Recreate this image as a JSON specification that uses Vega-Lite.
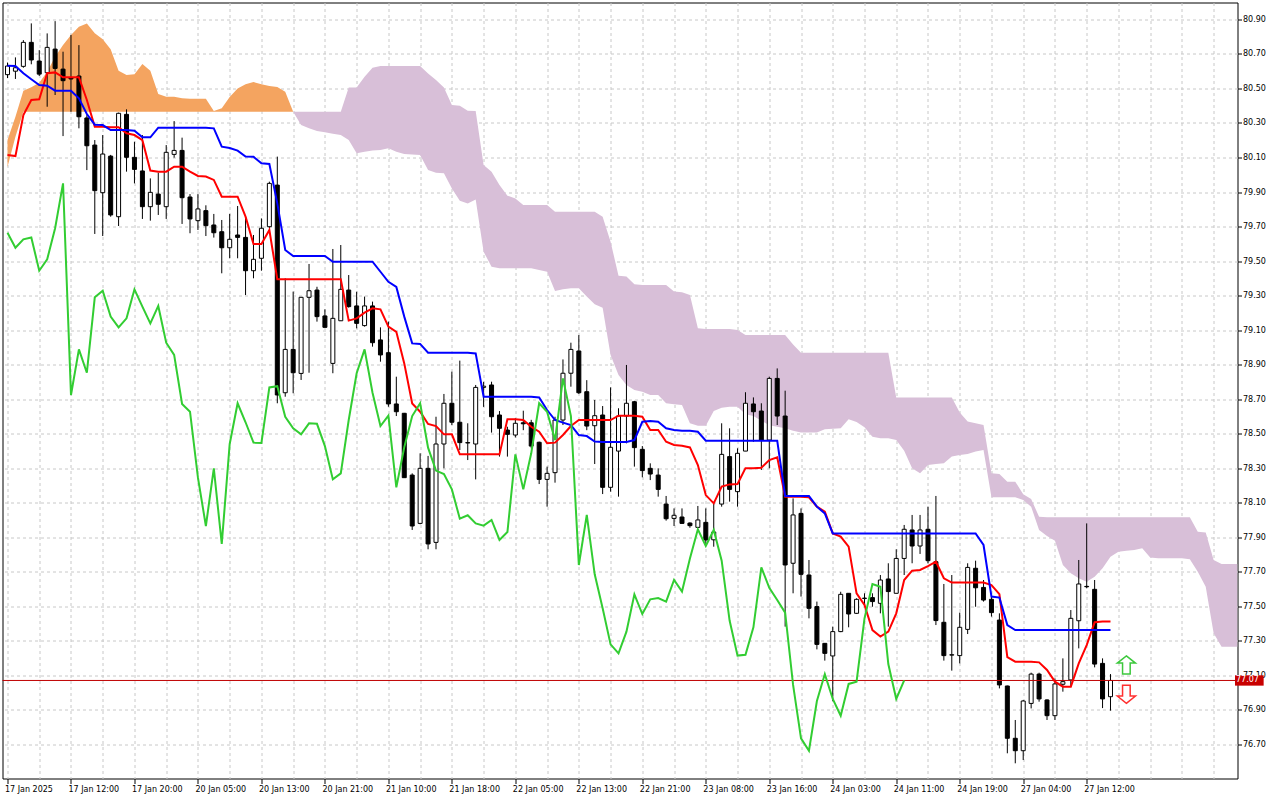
{
  "$schema": "https://vega.github.io/schema/vega-lite/v6.json",
  "width": 1235,
  "height": 776,
  "autosize": {"type": "none"},
  "padding": {"left": 2.5, "top": 2.5, "right": 42.5, "bottom": 21.5},
  "background": "white",
  "config": {
    "view": {"stroke": "black", "strokeWidth": 1},
    "font": "DejaVu Sans",
    "axis": {"labelFont": "DejaVu Sans", "labelFontSize": 8, "labelColor": "black", "title": null, "domain": false, "zindex": 0}
  },
  "datasets": {
    "bars": [
      {"i":0,"o":80.58,"h":80.65,"l":80.56,"c":80.63,"tk":80.114,"kj":80.632,"ch":79.664,"sa":80.201,"sb":80.045},
      {"i":1,"o":80.60,"h":80.68,"l":80.555,"c":80.62,"tk":80.108,"kj":80.63,"ch":79.577,"sa":80.336,"sb":80.22},
      {"i":2,"o":80.628,"h":80.78,"l":80.62,"c":80.767,"tk":80.346,"kj":80.588,"ch":79.626,"sa":80.487,"sb":80.365},
      {"i":3,"o":80.767,"h":80.877,"l":80.64,"c":80.665,"tk":80.433,"kj":80.553,"ch":79.637,"sa":80.507,"sb":80.365},
      {"i":4,"o":80.659,"h":80.722,"l":80.572,"c":80.583,"tk":80.437,"kj":80.52,"ch":79.444,"sa":80.533,"sb":80.365},
      {"i":5,"o":80.591,"h":80.819,"l":80.394,"c":80.738,"tk":80.588,"kj":80.516,"ch":79.51,"sa":80.597,"sb":80.365},
      {"i":6,"o":80.728,"h":80.89,"l":80.462,"c":80.616,"tk":80.593,"kj":80.487,"ch":79.69,"sa":80.684,"sb":80.365},
      {"i":7,"o":80.612,"h":80.713,"l":80.224,"c":80.545,"tk":80.565,"kj":80.487,"ch":79.95,"sa":80.752,"sb":80.365},
      {"i":8,"o":80.56,"h":80.81,"l":80.365,"c":80.555,"tk":80.565,"kj":80.487,"ch":78.724,"sa":80.81,"sb":80.365},
      {"i":9,"o":80.572,"h":80.751,"l":80.269,"c":80.336,"tk":80.565,"kj":80.443,"ch":78.988,"sa":80.858,"sb":80.365},
      {"i":10,"o":80.329,"h":80.345,"l":80.027,"c":80.168,"tk":80.433,"kj":80.352,"ch":78.853,"sa":80.877,"sb":80.365},
      {"i":11,"o":80.172,"h":80.201,"l":79.657,"c":79.908,"tk":80.278,"kj":80.29,"ch":79.29,"sa":80.82,"sb":80.365},
      {"i":12,"o":79.896,"h":80.23,"l":79.645,"c":80.12,"tk":80.278,"kj":80.288,"ch":79.328,"sa":80.785,"sb":80.365},
      {"i":13,"o":80.108,"h":80.115,"l":79.757,"c":79.767,"tk":80.275,"kj":80.259,"ch":79.178,"sa":80.727,"sb":80.365},
      {"i":14,"o":79.757,"h":80.36,"l":79.703,"c":80.356,"tk":80.275,"kj":80.259,"ch":79.116,"sa":80.603,"sb":80.365},
      {"i":15,"o":80.35,"h":80.379,"l":80.018,"c":80.101,"tk":80.24,"kj":80.259,"ch":79.168,"sa":80.578,"sb":80.365},
      {"i":16,"o":80.101,"h":80.191,"l":79.95,"c":80.031,"tk":80.23,"kj":80.255,"ch":79.336,"sa":80.583,"sb":80.365},
      {"i":17,"o":80.022,"h":80.23,"l":79.744,"c":79.815,"tk":80.2,"kj":80.217,"ch":79.236,"sa":80.642,"sb":80.365},
      {"i":18,"o":79.815,"h":79.979,"l":79.734,"c":79.898,"tk":80.024,"kj":80.217,"ch":79.139,"sa":80.603,"sb":80.365},
      {"i":19,"o":79.888,"h":80.012,"l":79.767,"c":79.829,"tk":80.018,"kj":80.273,"ch":79.24,"sa":80.468,"sb":80.365},
      {"i":20,"o":79.815,"h":80.172,"l":79.744,"c":80.13,"tk":80.018,"kj":80.273,"ch":79.027,"sa":80.452,"sb":80.365},
      {"i":21,"o":80.118,"h":80.311,"l":80.099,"c":80.141,"tk":80.047,"kj":80.273,"ch":78.956,"sa":80.452,"sb":80.365},
      {"i":22,"o":80.141,"h":80.215,"l":79.715,"c":79.867,"tk":80.047,"kj":80.273,"ch":78.672,"sa":80.443,"sb":80.365},
      {"i":23,"o":79.871,"h":79.888,"l":79.661,"c":79.744,"tk":80.018,"kj":80.273,"ch":78.627,"sa":80.44,"sb":80.365},
      {"i":24,"o":79.734,"h":79.888,"l":79.68,"c":79.802,"tk":79.993,"kj":80.273,"ch":78.245,"sa":80.44,"sb":80.365},
      {"i":25,"o":79.792,"h":79.823,"l":79.645,"c":79.705,"tk":79.99,"kj":80.273,"ch":77.965,"sa":80.44,"sb":80.365},
      {"i":26,"o":79.709,"h":79.773,"l":79.636,"c":79.664,"tk":79.97,"kj":80.269,"ch":78.299,"sa":80.37,"sb":80.365},
      {"i":27,"o":79.67,"h":79.738,"l":79.429,"c":79.577,"tk":79.873,"kj":80.163,"ch":77.861,"sa":80.385,"sb":80.365},
      {"i":28,"o":79.577,"h":79.773,"l":79.516,"c":79.626,"tk":79.873,"kj":80.155,"ch":78.44,"sa":80.45,"sb":80.365},
      {"i":29,"o":79.651,"h":79.819,"l":79.516,"c":79.637,"tk":79.873,"kj":80.14,"ch":78.676,"sa":80.50,"sb":80.365},
      {"i":30,"o":79.637,"h":79.757,"l":79.303,"c":79.444,"tk":79.757,"kj":80.105,"ch":78.566,"sa":80.525,"sb":80.365},
      {"i":31,"o":79.444,"h":79.651,"l":79.40,"c":79.51,"tk":79.599,"kj":80.104,"ch":78.448,"sa":80.537,"sb":80.365},
      {"i":32,"o":79.516,"h":79.747,"l":79.444,"c":79.69,"tk":79.599,"kj":80.066,"ch":78.446,"sa":80.525,"sb":80.365},
      {"i":33,"o":79.699,"h":79.96,"l":79.69,"c":79.95,"tk":79.68,"kj":80.062,"ch":78.768,"sa":80.514,"sb":80.365},
      {"i":34,"o":79.94,"h":80.105,"l":78.676,"c":78.724,"tk":79.394,"kj":79.834,"ch":78.775,"sa":80.508,"sb":80.365},
      {"i":35,"o":78.737,"h":79.40,"l":78.714,"c":78.988,"tk":79.394,"kj":79.564,"ch":78.598,"sa":80.481,"sb":80.365},
      {"i":36,"o":78.988,"h":79.323,"l":78.734,"c":78.853,"tk":79.394,"kj":79.529,"ch":78.531,"sa":80.365,"sb":80.365},
      {"i":37,"o":78.849,"h":79.29,"l":78.811,"c":79.29,"tk":79.394,"kj":79.529,"ch":78.496,"sa":80.288,"sb":80.365},
      {"i":38,"o":79.29,"h":79.483,"l":78.853,"c":79.328,"tk":79.394,"kj":79.529,"ch":78.56,"sa":80.269,"sb":80.365},
      {"i":39,"o":79.332,"h":79.351,"l":79.149,"c":79.178,"tk":79.394,"kj":79.529,"ch":78.557,"sa":80.253,"sb":80.365},
      {"i":40,"o":79.182,"h":79.22,"l":79.116,"c":79.116,"tk":79.394,"kj":79.529,"ch":78.428,"sa":80.246,"sb":80.365},
      {"i":41,"o":78.907,"h":79.57,"l":78.85,"c":79.168,"tk":79.394,"kj":79.496,"ch":78.235,"sa":80.238,"sb":80.365},
      {"i":42,"o":79.154,"h":79.593,"l":79.154,"c":79.336,"tk":79.394,"kj":79.496,"ch":78.27,"sa":80.23,"sb":80.365},
      {"i":43,"o":79.332,"h":79.419,"l":79.23,"c":79.236,"tk":79.155,"kj":79.496,"ch":78.579,"sa":80.201,"sb":80.506},
      {"i":44,"o":79.24,"h":79.322,"l":79.11,"c":79.139,"tk":79.168,"kj":79.496,"ch":78.85,"sa":80.124,"sb":80.506},
      {"i":45,"o":79.126,"h":79.294,"l":79.12,"c":79.24,"tk":79.201,"kj":79.496,"ch":78.988,"sa":80.134,"sb":80.568},
      {"i":46,"o":79.24,"h":79.265,"l":79.004,"c":79.027,"tk":79.226,"kj":79.496,"ch":78.737,"sa":80.14,"sb":80.62},
      {"i":47,"o":79.043,"h":79.116,"l":78.917,"c":78.956,"tk":79.22,"kj":79.438,"ch":78.544,"sa":80.143,"sb":80.63},
      {"i":48,"o":78.969,"h":79.149,"l":78.656,"c":78.672,"tk":79.12,"kj":79.38,"ch":78.604,"sa":80.153,"sb":80.63},
      {"i":49,"o":78.672,"h":78.83,"l":78.602,"c":78.627,"tk":79.09,"kj":79.35,"ch":78.189,"sa":80.134,"sb":80.63},
      {"i":50,"o":78.618,"h":78.62,"l":78.245,"c":78.245,"tk":78.907,"kj":79.178,"ch":78.421,"sa":80.12,"sb":80.63},
      {"i":51,"o":78.26,"h":78.27,"l":77.942,"c":77.965,"tk":78.675,"kj":79.023,"ch":78.602,"sa":80.118,"sb":80.63},
      {"i":52,"o":77.98,"h":78.386,"l":77.975,"c":78.299,"tk":78.627,"kj":79.02,"ch":78.676,"sa":80.114,"sb":80.63},
      {"i":53,"o":78.299,"h":78.371,"l":77.83,"c":77.861,"tk":78.556,"kj":78.969,"ch":78.419,"sa":80.027,"sb":80.587},
      {"i":54,"o":77.87,"h":78.598,"l":77.83,"c":78.44,"tk":78.544,"kj":78.969,"ch":78.286,"sa":80.012,"sb":80.549},
      {"i":55,"o":78.44,"h":78.73,"l":78.299,"c":78.676,"tk":78.496,"kj":78.969,"ch":78.266,"sa":80.008,"sb":80.506},
      {"i":56,"o":78.676,"h":78.859,"l":78.55,"c":78.566,"tk":78.496,"kj":78.969,"ch":78.177,"sa":79.921,"sb":80.404},
      {"i":57,"o":78.566,"h":78.923,"l":78.405,"c":78.448,"tk":78.38,"kj":78.969,"ch":78.007,"sa":79.85,"sb":80.40},
      {"i":58,"o":78.448,"h":78.56,"l":78.347,"c":78.446,"tk":78.38,"kj":78.969,"ch":78.027,"sa":79.834,"sb":80.371},
      {"i":59,"o":78.44,"h":78.782,"l":78.235,"c":78.768,"tk":78.38,"kj":78.965,"ch":77.98,"sa":79.857,"sb":80.369},
      {"i":60,"o":78.768,"h":78.8,"l":78.655,"c":78.775,"tk":78.38,"kj":78.714,"ch":77.967,"sa":79.554,"sb":80.056},
      {"i":61,"o":78.782,"h":78.801,"l":78.506,"c":78.598,"tk":78.38,"kj":78.714,"ch":78.0,"sa":79.467,"sb":80.018},
      {"i":62,"o":78.608,"h":78.631,"l":78.367,"c":78.531,"tk":78.38,"kj":78.714,"ch":77.884,"sa":79.458,"sb":79.94},
      {"i":63,"o":78.521,"h":78.54,"l":78.367,"c":78.496,"tk":78.583,"kj":78.714,"ch":77.93,"sa":79.458,"sb":79.879},
      {"i":64,"o":78.492,"h":78.589,"l":78.478,"c":78.56,"tk":78.583,"kj":78.714,"ch":78.38,"sa":79.458,"sb":79.863},
      {"i":65,"o":78.563,"h":78.633,"l":78.52,"c":78.557,"tk":78.579,"kj":78.714,"ch":78.177,"sa":79.458,"sb":79.825},
      {"i":66,"o":78.563,"h":78.58,"l":78.415,"c":78.428,"tk":78.54,"kj":78.714,"ch":78.386,"sa":79.458,"sb":79.825},
      {"i":67,"o":78.45,"h":78.454,"l":78.208,"c":78.235,"tk":78.511,"kj":78.71,"ch":78.676,"sa":79.448,"sb":79.825},
      {"i":68,"o":78.235,"h":78.309,"l":78.077,"c":78.27,"tk":78.444,"kj":78.637,"ch":78.627,"sa":79.438,"sb":79.825},
      {"i":69,"o":78.274,"h":78.598,"l":78.216,"c":78.579,"tk":78.448,"kj":78.579,"ch":78.463,"sa":79.326,"sb":79.786},
      {"i":70,"o":78.579,"h":78.93,"l":78.55,"c":78.85,"tk":78.492,"kj":78.564,"ch":78.82,"sa":79.336,"sb":79.786},
      {"i":71,"o":78.85,"h":79.027,"l":78.772,"c":78.988,"tk":78.544,"kj":78.55,"ch":78.602,"sa":79.342,"sb":79.786},
      {"i":72,"o":78.979,"h":79.071,"l":78.73,"c":78.737,"tk":78.579,"kj":78.492,"ch":77.739,"sa":79.342,"sb":79.786},
      {"i":73,"o":78.743,"h":78.81,"l":78.52,"c":78.544,"tk":78.579,"kj":78.486,"ch":78.029,"sa":79.294,"sb":79.786},
      {"i":74,"o":78.546,"h":78.695,"l":78.324,"c":78.604,"tk":78.579,"kj":78.454,"ch":77.685,"sa":79.249,"sb":79.786},
      {"i":75,"o":78.608,"h":78.66,"l":78.15,"c":78.189,"tk":78.579,"kj":78.452,"ch":77.488,"sa":79.23,"sb":79.757},
      {"i":76,"o":78.189,"h":78.768,"l":78.164,"c":78.421,"tk":78.579,"kj":78.452,"ch":77.279,"sa":78.955,"sb":79.612},
      {"i":77,"o":78.399,"h":78.647,"l":78.135,"c":78.602,"tk":78.604,"kj":78.452,"ch":77.227,"sa":78.84,"sb":79.415},
      {"i":78,"o":78.602,"h":78.898,"l":78.444,"c":78.676,"tk":78.604,"kj":78.452,"ch":77.353,"sa":78.782,"sb":79.411},
      {"i":79,"o":78.685,"h":78.69,"l":78.309,"c":78.419,"tk":78.604,"kj":78.463,"ch":77.569,"sa":78.753,"sb":79.365},
      {"i":80,"o":78.409,"h":78.428,"l":78.247,"c":78.286,"tk":78.598,"kj":78.569,"ch":77.455,"sa":78.743,"sb":79.361},
      {"i":81,"o":78.299,"h":78.328,"l":78.231,"c":78.266,"tk":78.521,"kj":78.573,"ch":77.54,"sa":78.724,"sb":79.361},
      {"i":82,"o":78.26,"h":78.299,"l":78.135,"c":78.177,"tk":78.521,"kj":78.569,"ch":77.547,"sa":78.724,"sb":79.361},
      {"i":83,"o":78.092,"h":78.139,"l":77.996,"c":78.007,"tk":78.453,"kj":78.531,"ch":77.527,"sa":78.676,"sb":79.361},
      {"i":84,"o":78.009,"h":78.067,"l":77.965,"c":78.027,"tk":78.434,"kj":78.521,"ch":77.652,"sa":78.67,"sb":79.323},
      {"i":85,"o":78.017,"h":78.067,"l":77.977,"c":77.98,"tk":78.43,"kj":78.517,"ch":77.585,"sa":78.666,"sb":79.319},
      {"i":86,"o":77.982,"h":77.986,"l":77.955,"c":77.967,"tk":78.42,"kj":78.517,"ch":77.777,"sa":78.56,"sb":79.303},
      {"i":87,"o":77.957,"h":78.081,"l":77.957,"c":78.0,"tk":78.318,"kj":78.511,"ch":77.946,"sa":78.546,"sb":79.11},
      {"i":88,"o":77.986,"h":78.067,"l":77.855,"c":77.884,"tk":78.144,"kj":78.459,"ch":77.849,"sa":78.546,"sb":79.106},
      {"i":89,"o":77.885,"h":78.096,"l":77.845,"c":77.93,"tk":78.096,"kj":78.459,"ch":77.942,"sa":78.631,"sb":79.106},
      {"i":90,"o":78.092,"h":78.56,"l":78.077,"c":78.38,"tk":78.193,"kj":78.459,"ch":77.764,"sa":78.65,"sb":79.106},
      {"i":91,"o":78.367,"h":78.531,"l":78.106,"c":78.177,"tk":78.206,"kj":78.459,"ch":77.417,"sa":78.656,"sb":79.106},
      {"i":92,"o":78.164,"h":78.415,"l":78.077,"c":78.386,"tk":78.208,"kj":78.459,"ch":77.214,"sa":78.656,"sb":79.10},
      {"i":93,"o":78.399,"h":78.74,"l":78.399,"c":78.676,"tk":78.3,"kj":78.459,"ch":77.219,"sa":78.613,"sb":79.072},
      {"i":94,"o":78.672,"h":78.71,"l":78.453,"c":78.627,"tk":78.3,"kj":78.459,"ch":77.378,"sa":78.602,"sb":79.072},
      {"i":95,"o":78.631,"h":78.676,"l":78.29,"c":78.463,"tk":78.303,"kj":78.459,"ch":77.725,"sa":78.575,"sb":79.072},
      {"i":96,"o":78.463,"h":78.83,"l":78.299,"c":78.82,"tk":78.347,"kj":78.459,"ch":77.607,"sa":78.548,"sb":79.072},
      {"i":97,"o":78.82,"h":78.878,"l":78.55,"c":78.602,"tk":78.363,"kj":78.459,"ch":77.536,"sa":78.54,"sb":79.072},
      {"i":98,"o":78.602,"h":78.749,"l":77.382,"c":77.739,"tk":78.135,"kj":78.139,"ch":77.463,"sa":78.531,"sb":79.072},
      {"i":99,"o":77.749,"h":78.125,"l":77.575,"c":78.029,"tk":78.135,"kj":78.139,"ch":77.044,"sa":78.517,"sb":79.017},
      {"i":100,"o":78.038,"h":78.067,"l":77.556,"c":77.685,"tk":78.135,"kj":78.139,"ch":76.735,"sa":78.506,"sb":78.969},
      {"i":101,"o":77.681,"h":77.768,"l":77.43,"c":77.488,"tk":78.131,"kj":78.139,"ch":76.663,"sa":78.506,"sb":78.969},
      {"i":102,"o":77.498,"h":77.527,"l":77.25,"c":77.279,"tk":78.077,"kj":78.077,"ch":76.951,"sa":78.506,"sb":78.969},
      {"i":103,"o":77.285,"h":77.285,"l":77.185,"c":77.227,"tk":78.048,"kj":78.038,"ch":77.107,"sa":78.525,"sb":78.969},
      {"i":104,"o":77.212,"h":77.382,"l":76.95,"c":77.353,"tk":77.922,"kj":77.922,"ch":76.963,"sa":78.529,"sb":78.969},
      {"i":105,"o":77.353,"h":77.584,"l":77.35,"c":77.569,"tk":77.903,"kj":77.922,"ch":76.866,"sa":78.531,"sb":78.969},
      {"i":106,"o":77.575,"h":77.575,"l":77.378,"c":77.455,"tk":77.845,"kj":77.922,"ch":77.05,"sa":78.583,"sb":78.969},
      {"i":107,"o":77.459,"h":77.546,"l":77.455,"c":77.54,"tk":77.575,"kj":77.922,"ch":77.063,"sa":78.568,"sb":78.969},
      {"i":108,"o":77.545,"h":77.575,"l":77.5,"c":77.547,"tk":77.507,"kj":77.922,"ch":77.43,"sa":78.537,"sb":78.969},
      {"i":109,"o":77.55,"h":77.575,"l":77.497,"c":77.527,"tk":77.362,"kj":77.922,"ch":77.629,"sa":78.482,"sb":78.969},
      {"i":110,"o":77.517,"h":77.681,"l":77.459,"c":77.652,"tk":77.324,"kj":77.922,"ch":77.613,"sa":78.473,"sb":78.969},
      {"i":111,"o":77.658,"h":77.749,"l":77.382,"c":77.585,"tk":77.353,"kj":77.922,"ch":77.165,"sa":78.473,"sb":78.969},
      {"i":112,"o":77.575,"h":77.83,"l":77.575,"c":77.777,"tk":77.459,"kj":77.922,"ch":76.963,"sa":78.463,"sb":78.71},
      {"i":113,"o":77.777,"h":77.971,"l":77.681,"c":77.946,"tk":77.652,"kj":77.922,"ch":77.07,"sa":78.401,"sb":78.71},
      {"i":114,"o":77.942,"h":78.029,"l":77.749,"c":77.849,"tk":77.706,"kj":77.922,"sa":78.299,"sb":78.71},
      {"i":115,"o":77.849,"h":78.029,"l":77.803,"c":77.942,"tk":77.71,"kj":77.922,"sa":78.27,"sb":78.71},
      {"i":116,"o":77.946,"h":78.077,"l":77.749,"c":77.764,"tk":77.733,"kj":77.922,"sa":78.318,"sb":78.71},
      {"i":117,"o":77.758,"h":78.139,"l":77.391,"c":77.417,"tk":77.758,"kj":77.922,"sa":78.324,"sb":78.71},
      {"i":118,"o":77.407,"h":77.629,"l":77.185,"c":77.214,"tk":77.662,"kj":77.922,"sa":78.328,"sb":78.71},
      {"i":119,"o":77.217,"h":77.681,"l":77.127,"c":77.219,"tk":77.637,"kj":77.922,"sa":78.367,"sb":78.71},
      {"i":120,"o":77.214,"h":77.463,"l":77.169,"c":77.378,"tk":77.637,"kj":77.922,"sa":78.376,"sb":78.622},
      {"i":121,"o":77.366,"h":77.749,"l":77.339,"c":77.725,"tk":77.637,"kj":77.922,"sa":78.382,"sb":78.57},
      {"i":122,"o":77.72,"h":77.764,"l":77.497,"c":77.607,"tk":77.637,"kj":77.922,"sa":78.396,"sb":78.56},
      {"i":123,"o":77.609,"h":77.652,"l":77.527,"c":77.536,"tk":77.637,"kj":77.855,"sa":78.405,"sb":78.55},
      {"i":124,"o":77.54,"h":77.555,"l":77.44,"c":77.463,"tk":77.623,"kj":77.556,"sa":78.131,"sb":78.27},
      {"i":125,"o":77.42,"h":77.459,"l":77.024,"c":77.044,"tk":77.57,"kj":77.55,"sa":78.131,"sb":78.266},
      {"i":126,"o":77.038,"h":77.04,"l":76.648,"c":76.735,"tk":77.205,"kj":77.391,"sa":78.131,"sb":78.222},
      {"i":127,"o":76.735,"h":76.841,"l":76.59,"c":76.663,"tk":77.179,"kj":77.362,"sa":78.131,"sb":78.222},
      {"i":128,"o":76.663,"h":76.957,"l":76.609,"c":76.951,"tk":77.179,"kj":77.362,"sa":78.116,"sb":78.149},
      {"i":129,"o":76.937,"h":77.115,"l":76.908,"c":77.107,"tk":77.179,"kj":77.362,"sa":78.077,"sb":78.121},
      {"i":130,"o":77.107,"h":77.115,"l":76.947,"c":76.963,"tk":77.175,"kj":77.362,"sa":77.942,"sb":78.019},
      {"i":131,"o":76.957,"h":76.961,"l":76.841,"c":76.866,"tk":77.131,"kj":77.362,"sa":77.907,"sb":78.015},
      {"i":132,"o":76.866,"h":77.082,"l":76.841,"c":77.05,"tk":77.063,"kj":77.362,"sa":77.88,"sb":78.015},
      {"i":133,"o":77.048,"h":77.198,"l":77.005,"c":77.063,"tk":77.034,"kj":77.362,"sa":77.739,"sb":78.015},
      {"i":134,"o":77.073,"h":77.478,"l":77.034,"c":77.43,"tk":77.034,"kj":77.362,"sa":77.691,"sb":78.015},
      {"i":135,"o":77.416,"h":77.768,"l":77.256,"c":77.629,"tk":77.169,"kj":77.362,"sa":77.662,"sb":78.015},
      {"i":136,"o":77.615,"h":77.98,"l":77.604,"c":77.613,"tk":77.275,"kj":77.362,"sa":77.642,"sb":78.015},
      {"i":137,"o":77.598,"h":77.652,"l":77.146,"c":77.165,"tk":77.407,"kj":77.362,"sa":77.671,"sb":78.015},
      {"i":138,"o":77.169,"h":77.198,"l":76.91,"c":76.963,"tk":77.411,"kj":77.362,"sa":77.72,"sb":78.015},
      {"i":139,"o":76.976,"h":77.107,"l":76.895,"c":77.07,"tk":77.411,"kj":77.362,"sa":77.787,"sb":78.015},
      {"i":140,"sa":77.816,"sb":78.015},
      {"i":141,"sa":77.822,"sb":78.015},
      {"i":142,"sa":77.826,"sb":78.015},
      {"i":143,"sa":77.836,"sb":78.015},
      {"i":144,"sa":77.782,"sb":78.015},
      {"i":145,"sa":77.778,"sb":78.015},
      {"i":146,"sa":77.778,"sb":78.015},
      {"i":147,"sa":77.778,"sb":78.015},
      {"i":148,"sa":77.778,"sb":78.015},
      {"i":149,"sa":77.772,"sb":78.015},
      {"i":150,"sa":77.70,"sb":77.932},
      {"i":151,"sa":77.613,"sb":77.928},
      {"i":152,"sa":77.343,"sb":77.768},
      {"i":153,"sa":77.266,"sb":77.745},
      {"i":154,"sa":77.266,"sb":77.745},
      {"i":155,"sa":77.266,"sb":77.745}
    ],
    "arrows": [
      {"i": 141, "p": 77.16, "dir": "up"},
      {"i": 141, "p": 76.99, "dir": "down"}
    ],
    "bid": [
      {"price": 77.07, "label": "77.07"}
    ]
  },
  "data": {"name": "bars"},
  "layer": [
    {
      "transform": [{"filter": "datum.sa >= datum.sb"}],
      "mark": {"type": "area", "fill": "#f4a460", "clip": true},
      "encoding": {
        "x": {
          "field": "i", "type": "quantitative",
          "scale": {"domain": [0, 154.375], "nice": false, "zero": false},
          "axis": {
            "orient": "bottom",
            "values": [0,4,8,12,16,20,24,28,32,36,40,44,48,52,56,60,64,68,72,76,80,84,88,92,96,100,104,108,112,116,120,124,128,132,136,140,144,148,152],
            "tickCount": 200,
            "labelExpr": "datum.value % 8 === 0 && datum.value <= 136 ? ['17 Jan 2025','17 Jan 12:00','17 Jan 20:00','20 Jan 05:00','20 Jan 13:00','20 Jan 21:00','21 Jan 10:00','21 Jan 18:00','22 Jan 05:00','22 Jan 13:00','22 Jan 21:00','23 Jan 08:00','23 Jan 16:00','24 Jan 03:00','24 Jan 11:00','24 Jan 19:00','27 Jan 04:00','27 Jan 12:00'][datum.value / 8] : ''",
            "labelAlign": "left",
            "labelBaseline": "top",
            "labelPadding": 2,
            "labelOffset": -3,
            "labelOverlap": false,
            "labelFlush": false,
            "labelBound": false,
            "tickSize": 5,
            "tickColor": {"condition": {"test": "datum.value % 8 === 0 && datum.value <= 136", "value": "black"}, "value": "transparent"},
            "grid": true,
            "gridColor": "#c8c8c8",
            "gridDash": [3, 3]
          }
        },
        "y": {
          "field": "sa", "type": "quantitative",
          "scale": {"domain": [76.502, 80.998], "nice": false, "zero": false},
          "axis": {
            "orient": "right",
            "values": [76.7,76.9,77.1,77.3,77.5,77.7,77.9,78.1,78.3,78.5,78.7,78.9,79.1,79.3,79.5,79.7,79.9,80.1,80.3,80.5,80.7,80.9],
            "tickCount": 200,
            "format": ".2f",
            "labelOverlap": false,
            "labelPadding": 1,
            "labelAlign": "left",
            "tickSize": 4,
            "tickColor": "black",
            "grid": true,
            "gridColor": "#c8c8c8",
            "gridDash": [3, 3]
          }
        },
        "y2": {"field": "sb"}
      }
    },
    {
      "transform": [{"filter": "datum.sa <= datum.sb"}],
      "mark": {"type": "area", "fill": "#d8bfd8", "clip": true},
      "encoding": {
        "x": {"field": "i", "type": "quantitative", "scale": {"domain": [0, 154.375], "nice": false, "zero": false}},
        "y": {"field": "sa", "type": "quantitative", "scale": {"domain": [76.502, 80.998], "nice": false, "zero": false}},
        "y2": {"field": "sb"}
      }
    },
    {
      "transform": [{"filter": "isValid(datum.o)"}],
      "mark": {"type": "rule", "color": "black", "strokeWidth": 1},
      "encoding": {
        "x": {"field": "i", "type": "quantitative", "scale": {"domain": [0, 154.375], "nice": false, "zero": false}},
        "y": {"field": "l", "type": "quantitative", "scale": {"domain": [76.502, 80.998], "nice": false, "zero": false}},
        "y2": {"field": "h"}
      }
    },
    {
      "transform": [{"filter": "isValid(datum.o)"}],
      "mark": {"type": "bar", "size": 4, "stroke": "black", "strokeWidth": 1},
      "encoding": {
        "x": {"field": "i", "type": "quantitative", "scale": {"domain": [0, 154.375], "nice": false, "zero": false}},
        "y": {"field": "o", "type": "quantitative", "scale": {"domain": [76.502, 80.998], "nice": false, "zero": false}},
        "y2": {"field": "c"},
        "fill": {"condition": {"test": "datum.c >= datum.o", "value": "white"}, "value": "black"}
      }
    },
    {
      "data": {"name": "bid"},
      "mark": {"type": "rule", "color": "#c00000", "strokeWidth": 1},
      "encoding": {"y": {"field": "price", "type": "quantitative", "scale": {"domain": [76.502, 80.998], "nice": false, "zero": false}}}
    },
    {
      "transform": [{"filter": "isValid(datum.tk)"}],
      "mark": {"type": "line", "color": "#ff0000", "strokeWidth": 2},
      "encoding": {
        "x": {"field": "i", "type": "quantitative", "scale": {"domain": [0, 154.375], "nice": false, "zero": false}},
        "y": {"field": "tk", "type": "quantitative", "scale": {"domain": [76.502, 80.998], "nice": false, "zero": false}}
      }
    },
    {
      "transform": [{"filter": "isValid(datum.kj)"}],
      "mark": {"type": "line", "color": "#0000ff", "strokeWidth": 2},
      "encoding": {
        "x": {"field": "i", "type": "quantitative", "scale": {"domain": [0, 154.375], "nice": false, "zero": false}},
        "y": {"field": "kj", "type": "quantitative", "scale": {"domain": [76.502, 80.998], "nice": false, "zero": false}}
      }
    },
    {
      "transform": [{"filter": "isValid(datum.ch)"}],
      "mark": {"type": "line", "color": "#32cd32", "strokeWidth": 2},
      "encoding": {
        "x": {"field": "i", "type": "quantitative", "scale": {"domain": [0, 154.375], "nice": false, "zero": false}},
        "y": {"field": "ch", "type": "quantitative", "scale": {"domain": [76.502, 80.998], "nice": false, "zero": false}}
      }
    },
    {
      "data": {"name": "arrows"},
      "mark": {"type": "point", "filled": false, "fill": "white", "fillOpacity": 1, "strokeWidth": 1.5, "size": 330, "opacity": 1},
      "encoding": {
        "x": {"field": "i", "type": "quantitative", "scale": {"domain": [0, 154.375], "nice": false, "zero": false}},
        "y": {"field": "p", "type": "quantitative", "scale": {"domain": [76.502, 80.998], "nice": false, "zero": false}},
        "shape": {"condition": {"test": "datum.dir === 'up'", "value": "M0,-1L1,-0.2L0.42,-0.2L0.42,1L-0.42,1L-0.42,-0.2L-1,-0.2Z"}, "value": "M0,1L1,0.2L0.42,0.2L0.42,-1L-0.42,-1L-0.42,0.2L-1,0.2Z"},
        "stroke": {"condition": {"test": "datum.dir === 'up'", "value": "#3cc83c"}, "value": "#ff3030"}
      }
    },
    {
      "data": {"name": "bid"},
      "mark": {"type": "rect", "color": "#c80000", "clip": false},
      "encoding": {
        "x": {"datum": 154.69, "type": "quantitative", "scale": {"domain": [0, 154.375], "nice": false, "zero": false}},
        "x2": {"datum": 158.3},
        "y": {"datum": 77.04, "type": "quantitative", "scale": {"domain": [76.502, 80.998], "nice": false, "zero": false}},
        "y2": {"datum": 77.10}
      }
    },
    {
      "data": {"name": "bid"},
      "mark": {"type": "text", "color": "white", "align": "left", "baseline": "middle", "font": "DejaVu Sans", "fontSize": 8, "clip": false, "dx": 1},
      "encoding": {
        "x": {"datum": 154.69, "type": "quantitative", "scale": {"domain": [0, 154.375], "nice": false, "zero": false}},
        "y": {"field": "price", "type": "quantitative", "scale": {"domain": [76.502, 80.998], "nice": false, "zero": false}},
        "text": {"field": "label"}
      }
    }
  ]
}
